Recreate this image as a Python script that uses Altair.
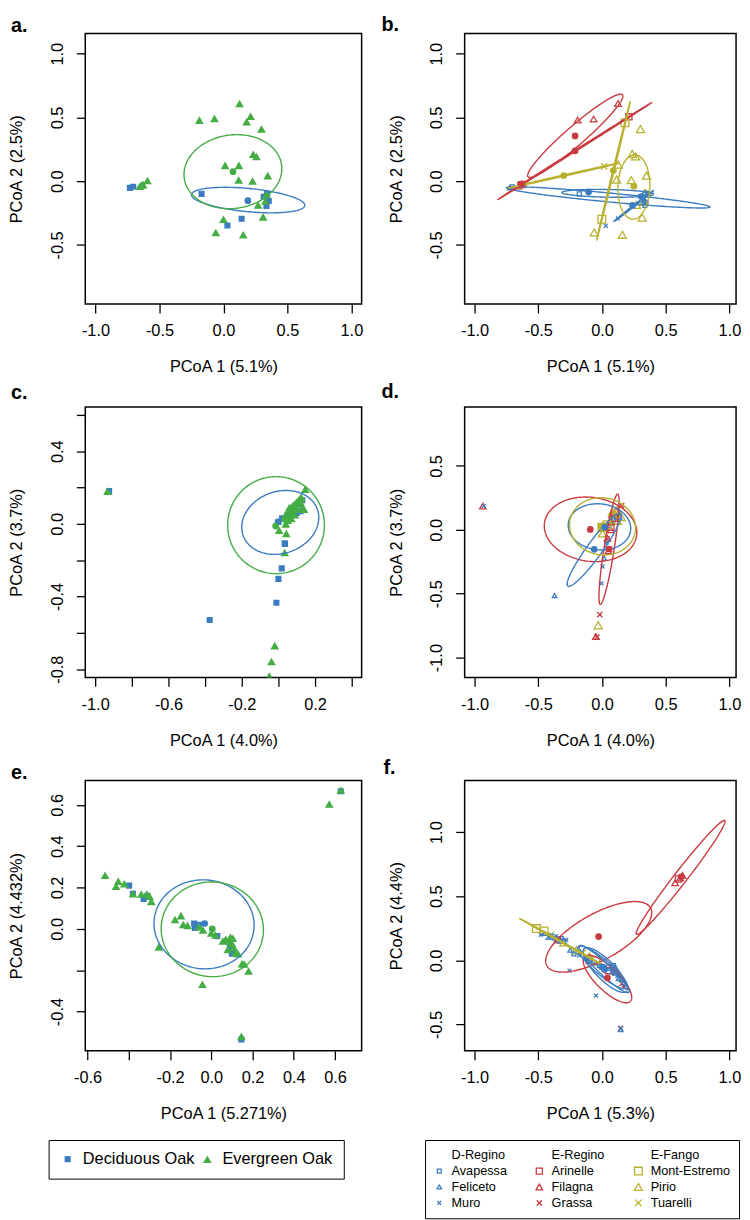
import numpy as np
import pandas as pd
import altair as alt

FONT = "Liberation Sans"
BLUE = "#3B7CC0"
GREEN = "#44AD44"
RED = "#C93A40"
YELLOW = "#B8B12F"
COL = {"D": BLUE, "E": RED, "F": YELLOW, "dec": BLUE, "eve": GREEN}

GROUPS = ["Deciduous Oak", "Evergreen Oak"]
# legend order (filled column by column)
SITES = ["D-Regino", "Avapessa", "Feliceto", "Muro",
         "E-Regino", "Arinelle", "Filagna", "Grassa",
         "E-Fango", "Mont-Estremo", "Pirio", "Tuarelli"]
NONE_COL = "rgba(0,0,0,0)"
SITE_COLORS = [NONE_COL, BLUE, BLUE, BLUE, NONE_COL, RED, RED, RED, NONE_COL, YELLOW, YELLOW, YELLOW]
CROSS = "M-0.75,-0.75L0.75,0.75M-0.75,0.75L0.75,-0.75"
SITE_SHAPES = ["square", "square", "triangle-up", CROSS,
               "square", "square", "triangle-up", CROSS,
               "square", "square", "triangle-up", CROSS]
SITE_SIZES = [10, 72, 130, 110, 10, 72, 130, 110, 10, 72, 130, 110]

# ---------------- panel a ----------------
A_DEC_X = [-0.731, -0.705, -0.171, 0.031, 0.142, 0.315, 0.341, 0.354, 0.336]
A_DEC_Y = [-0.052, -0.044, -0.099, -0.347, -0.295, -0.122, -0.099, -0.155, -0.194]
A_EVE_X = [-0.654, -0.628, -0.594, -0.640, -0.188, -0.070, 0.126, 0.212, 0.181, 0.297, 0.233, 0.258,
           0.013, 0.121, 0.119, 0.227, 0.346, 0.336, 0.328, 0.271, 0.000, 0.310, -0.060, 0.155]
A_EVE_Y = [-0.039, -0.026, 0.005, -0.030, 0.479, 0.492, 0.609, 0.510, 0.466, 0.409, 0.212, 0.194,
           0.124, 0.124, 0.010, 0.002, 0.044, -0.104, -0.155, -0.186, -0.298, -0.280, -0.402, -0.420]
A_CENT = [("dec", 0.191, -0.153), ("eve", 0.075, 0.075)]
A_ELL = [("dec", 0.193, -0.148, 0.445, 0.091, -5.5), ("eve", 0.074, 0.075, 0.384, 0.288, 8)]

# ---------------- panel b ----------------
B_PTS = {
    "Filagna": ([-0.191, -0.066, 0.126, -0.655], [0.479, 0.487, 0.609, -0.038]),
    "Arinelle": ([0.211, -0.632], [0.505, -0.027]),
    "Grassa": ([-0.612, -0.645], [-0.015, -0.030]),
    "Mont-Estremo": ([0.180, -0.001], [0.458, -0.298]),
    "Tuarelli": ([0.017, -0.617], [0.117, -0.029]),
    "Pirio": ([0.126, 0.115, 0.237, 0.263, 0.230, 0.349, 0.302, 0.336, 0.328, 0.271, 0.315, -0.061, 0.160],
              [0.130, 0.013, 0.215, 0.194, 0.008, 0.044, 0.409, -0.091, -0.161, -0.186, -0.285, -0.402, -0.420]),
    "Feliceto": ([-0.722, 0.330, 0.335], [-0.052, -0.092, -0.150]),
    "Avapessa": ([-0.705, -0.178, 0.336, 0.345], [-0.044, -0.099, -0.190, -0.165]),
    "Muro": ([0.030, 0.125, 0.300, 0.360], [-0.350, -0.292, -0.118, -0.085]),
}
B_CENT = [("E", -0.211, 0.355), ("E", -0.211, 0.238), ("E", -0.63, -0.022), ("F", 0.089, 0.083),
          ("F", -0.300, 0.044), ("F", 0.250, -0.039), ("D", -0.105, -0.085), ("D", 0.31, -0.12), ("D", 0.24, -0.19)]
B_ELL = [("D", 0.049, -0.127, 0.803, 0.035, -5.4), ("D", 0.045, -0.095, 0.36, 0.03, -1.0),
         ("D", 0.25, -0.194, 0.198, 0.006, 38), ("E", -0.21, 0.356, 0.491, 0.075, 41),
         ("E", -0.211, 0.238, 0.713, 0.005, 32.2), ("F", 0.09, 0.083, 0.56, 0.005, 76.4),
         ("F", -0.30, 0.044, 0.445, 0.005, 12.7), ("F", 0.25, -0.045, 0.253, 0.125, 88)]

# ---------------- panel c ----------------
C_DEC_X = [-0.924, -0.375, 0.036, 0.034, 0.018, 0.000, -0.011, 0.000, 0.020, 0.050, 0.070, 0.090, 0.110,
           0.120, 0.130, 0.060, 0.100]
C_DEC_Y = [0.180, -0.529, -0.111, -0.107, -0.245, -0.303, -0.434, 0.010, 0.030, 0.050, 0.080, 0.100, 0.110,
           0.070, 0.130, 0.030, 0.060]
C_EVE_X = [-0.933, -0.020, -0.038, -0.050, 0.004, 0.043, 0.034, 0.146, 0.030, 0.040, 0.050, 0.060, 0.070,
           0.080, 0.090, 0.100, 0.110, 0.120, 0.124, 0.050, 0.080, 0.100, 0.130, 0.140, 0.070, 0.090, 0.120,
           0.060, 0.040]
C_EVE_Y = [0.180, -0.670, -0.757, -0.838, -0.035, -0.053, -0.158, 0.190, 0.030, 0.050, 0.060, 0.070, 0.090,
           0.100, 0.110, 0.120, 0.130, 0.140, 0.147, 0.020, 0.060, 0.080, 0.093, 0.080, 0.030, 0.050, 0.120,
           0.090, 0.000]
C_CENT = [("dec", -0.002, 0.011), ("eve", -0.015, -0.012)]
C_ELL = [("dec", 0.01, 0.008, 0.215, 0.17, 20), ("eve", -0.013, -0.007, 0.264, 0.267, 0)]

# ---------------- panel d ----------------
D_PTS = {
    "Filagna": ([-0.935, -0.048, 0.043, 0.050, 0.060, 0.080, 0.110, 0.070], [0.186, -0.835, -0.067, -0.165, 0.060, 0.120, 0.150, 0.000]),
    "Muro": ([-0.928, -0.004, 0.004, 0.036, 0.080], [0.186, -0.420, -0.287, -0.100, 0.060]),
    "Feliceto": ([-0.372, 0.017, 0.139, 0.140], [-0.514, -0.222, 0.100, 0.130]),
    "Grassa": ([-0.017, -0.040, 0.154, 0.040, 0.060], [-0.664, -0.840, 0.190, -0.070, -0.150]),
    "Pirio": ([-0.030, 0.004, 0.010, 0.069, 0.082, 0.100, 0.120, 0.120, 0.150], [-0.747, -0.028, 0.020, 0.075, 0.140, 0.130, 0.155, 0.070, 0.100]),
    "Avapessa": ([0.050, 0.090, 0.110], [0.030, 0.080, 0.100]),
    "Arinelle": ([0.070, 0.100], [0.020, 0.090]),
    "Mont-Estremo": ([0.000, 0.040], [0.020, 0.040]),
    "Tuarelli": ([0.020, 0.100], [0.030, 0.110]),
}
D_CENT = [("E", -0.092, 0.003), ("D", -0.061, -0.153), ("F", -0.009, 0.028), ("F", 0.010, 0.030),
          ("D", 0.020, 0.020), ("E", 0.055, -0.150)]
D_ELL = [("E", -0.09, 0.004, 0.365, 0.25, -8), ("E", 0.055, -0.152, 0.437, 0.04, 81),
         ("D", -0.062, -0.157, 0.35, 0.06, 54), ("D", -0.02, 0.023, 0.246, 0.18, -6),
         ("F", 0.004, 0.027, 0.26, 0.223, -10)]

# ---------------- panel e ----------------
E_DEC_X = [0.628, 0.146, -0.398, -0.380, -0.328, -0.310, -0.083, -0.080, -0.060, 0.029, 0.090, 0.097, 0.100]
E_DEC_Y = [0.666, -0.535, 0.209, 0.170, 0.145, 0.160, 0.026, 0.005, 0.020, -0.035, -0.080, -0.100, -0.120]
E_EVE_X = [0.572, 0.628, 0.146, -0.515, -0.451, -0.462, -0.422, -0.379, -0.339, -0.312, -0.299, -0.291,
           -0.254, -0.176, -0.147, -0.136, -0.115, -0.040, 0.000, 0.056, 0.093, 0.080, 0.117, 0.149, 0.160,
           0.181, -0.043, 0.070, 0.100, 0.110, 0.130, -0.060, 0.020, 0.090, 0.105]
E_EVE_Y = [0.604, 0.672, -0.520, 0.259, 0.230, 0.206, 0.218, 0.170, 0.169, 0.169, 0.158, 0.133,
           -0.087, 0.045, 0.064, 0.021, 0.016, -0.005, -0.020, -0.059, -0.040, -0.100, -0.116, -0.169, -0.170,
           -0.204, -0.268, -0.050, -0.070, -0.090, -0.120, 0.010, -0.030, -0.060, -0.045]
E_CENT = [("dec", -0.032, 0.026), ("eve", 0.005, 0.000)]
E_ELL = [("dec", -0.035, 0.022, 0.243, 0.215, -5), ("eve", 0.005, -0.002, 0.248, 0.229, -5)]

# ---------------- panel f ----------------
F_PTS = {
    "Filagna": ([0.613, 0.574, 0.632], [0.643, 0.605, 0.662]),
    "Arinelle": ([0.600, -0.350, -0.100, 0.050], [0.635, 0.160, 0.000, -0.080]),
    "Grassa": ([0.146, 0.155, 0.172, 0.100, 0.000], [-0.532, -0.180, -0.205, -0.100, -0.050]),
    "Mont-Estremo": ([-0.515, -0.455, -0.048], [0.248, 0.230, -0.002]),
    "Pirio": ([-0.300, -0.200, -0.100], [0.140, 0.080, 0.030]),
    "Tuarelli": ([-0.400, -0.150], [0.200, 0.060]),
    "Avapessa": ([-0.400, -0.330, -0.300, -0.220, -0.100, -0.020, 0.050, 0.100, 0.150, 0.090, -0.320],
                 [0.190, 0.150, 0.150, 0.050, 0.000, -0.040, -0.050, -0.100, -0.150, -0.040, 0.170]),
    "Feliceto": ([-0.450, -0.350, -0.250, -0.120, -0.050, 0.030, 0.080, 0.130, 0.110, -0.420, 0.146],
                 [0.210, 0.160, 0.080, 0.020, -0.020, -0.060, -0.090, -0.140, -0.060, 0.180, -0.540]),
    "Muro": ([-0.480, -0.380, -0.280, -0.180, -0.080, 0.000, 0.070, 0.120, 0.170, -0.360, -0.255, -0.048, 0.148],
             [0.200, 0.170, 0.160, 0.040, -0.010, -0.050, -0.070, -0.120, -0.190, 0.190, -0.080, -0.274, -0.528]),
}
F_CENT = [("E", -0.027, 0.186), ("E", 0.043, -0.137), ("E", 0.620, 0.652), ("D", 0.000, -0.050), ("D", 0.020, -0.070)]
F_ELL = [("E", -0.026, 0.184, 0.465, 0.18, 29), ("E", 0.043, -0.145, 0.25, 0.09, -44),
         ("E", 0.617, 0.647, 0.5625, 0.05, 52), ("D", 0.017, -0.067, 0.266, 0.045, -43),
         ("D", 0.005, -0.055, 0.25, 0.06, -40), ("D", 0.025, -0.075, 0.235, 0.075, -45),
         ("F", -0.327, 0.149, 0.364, 0.005, -29.2)]

# ---------------- axes ----------------
TICKS_1 = [-1.0, -0.5, 0.0, 0.5, 1.0]
TICKS_AB_Y = [-0.5, 0.0, 0.5, 1.0]
TICKS_C_X = [-1.0, -0.8, -0.6, -0.4, -0.2, 0.0, 0.2, 0.4]
HIDE_C_X = [-0.8, -0.4, 0.0, 0.4]
TICKS_C_Y = [-0.8, -0.6, -0.4, -0.2, 0.0, 0.2, 0.4, 0.6]
HIDE_C_Y = [-0.6, -0.2, 0.2, 0.6]
TICKS_D_Y = [-1.0, -0.5, 0.0, 0.5]
TICKS_E_X = [-0.6, -0.4, -0.2, 0.0, 0.2, 0.4, 0.6]
HIDE_E_X = [-0.4]
TICKS_E_Y = [-0.4, -0.2, 0.0, 0.2, 0.4, 0.6]
HIDE_E_Y = [-0.2]
TICKS_F_Y = [-0.5, 0.0, 0.5, 1.0]

W1, W2, H = 279, 274, 273


def lab_expr(hide):
    base = "replace(format(datum.value, '.1f'), '\u2212', '-')"
    if not hide:
        return base
    cond = " || ".join("abs(datum.value - (%s)) < 0.001" % v for v in hide)
    return "(%s) ? '' : %s" % (cond, base)


def ellipse_frame(specs, n=181):
    t = np.linspace(0.0, 2 * np.pi, n)
    frames = []
    for k, (reg, cx, cy, a, b, ang) in enumerate(specs):
        th = np.radians(ang)
        xs = cx + a * np.cos(t) * np.cos(th) - b * np.sin(t) * np.sin(th)
        ys = cy + a * np.cos(t) * np.sin(th) + b * np.sin(t) * np.cos(th)
        frames.append(pd.DataFrame({"x": xs, "y": ys, "i": np.arange(n), "eid": k, "col": COL[reg]}))
    return pd.concat(frames, ignore_index=True)


def cent_frame(specs):
    return pd.DataFrame({"x": [s[1] for s in specs], "y": [s[2] for s in specs],
                         "col": [COL[s[0]] for s in specs]})


def group_frame(dx, dy, ex, ey):
    return pd.DataFrame({"x": dx + ex, "y": dy + ey,
                         "g": [GROUPS[0]] * len(dx) + [GROUPS[1]] * len(ex)})


def site_frame(d):
    xs, ys, ss = [], [], []
    for s, (px, py) in d.items():
        xs += px
        ys += py
        ss += [s] * len(px)
    return pd.DataFrame({"x": xs, "y": ys, "s": ss})


def panel(letter, ldx, loff, width, kind, pts_df, cen_df, ell_df, xdom, ydom,
          xt, xhide, yt, yhide, xtitle, ytitle, legend=None):
    xs = alt.Scale(domain=xdom, nice=False, zero=False)
    ys = alt.Scale(domain=ydom, nice=False, zero=False)
    xax = alt.Axis(values=xt, labelExpr=lab_expr(xhide), title=xtitle, labelPadding=10,
                   titlePadding=20, labelOverlap=False, labelFlush=False)
    yax = alt.Axis(values=yt, labelExpr=lab_expr(yhide), title=ytitle, labelAngle=-90,
                   labelAlign="center", labelBaseline="bottom", labelPadding=11, titlePadding=25,
                   labelOverlap=False, labelFlush=False)
    X = alt.X("x:Q", scale=xs, axis=xax)
    Y = alt.Y("y:Q", scale=ys, axis=yax)
    leg = legend
    if kind == "group":
        pts = alt.Chart(pts_df).mark_point(filled=True, opacity=1, clip=True).encode(
            x=X, y=Y,
            color=alt.Color("g:N", scale=alt.Scale(domain=GROUPS, range=[BLUE, GREEN]), legend=leg, title=None),
            shape=alt.Shape("g:N", scale=alt.Scale(domain=GROUPS, range=["square", "triangle-up"]), legend=leg, title=None),
            size=alt.Size("g:N", scale=alt.Scale(domain=GROUPS, range=[38, 78]), legend=None),
        )
    else:
        pts = alt.Chart(pts_df).mark_point(filled=False, opacity=1, strokeWidth=1.3, clip=True).encode(
            x=X, y=Y,
            color=alt.Color("s:N", scale=alt.Scale(domain=SITES, range=SITE_COLORS), legend=leg, title=None),
            shape=alt.Shape("s:N", scale=alt.Scale(domain=SITES, range=SITE_SHAPES), legend=leg, title=None),
            size=alt.Size("s:N", scale=alt.Scale(domain=SITES, range=SITE_SIZES), legend=None),
        )
    ell = alt.Chart(ell_df).mark_line(strokeWidth=1.4, clip=True).encode(
        x=X, y=Y, detail="eid:N", order="i:Q", stroke=alt.Stroke("col:N", scale=None))
    cen = alt.Chart(cen_df).mark_point(filled=True, shape="circle", size=46, opacity=1, clip=True).encode(
        x=X, y=Y, fill=alt.Fill("col:N", scale=None))
    lab = alt.Chart(pd.DataFrame({"t": [letter]})).mark_text(
        align="left", baseline="alphabetic", fontSize=20, fontWeight="bold", font=FONT, color="black"
    ).encode(text="t:N", x=alt.value(ldx), y=alt.value(-loff))
    return alt.layer(pts, ell, cen, lab).properties(width=width, height=H)


LEG_GROUP = alt.Legend(orient="none", legendX=-37, legendY=363, direction="horizontal", title=None,
                       titlePadding=0, strokeColor="black", padding=11, labelFont=FONT, labelFontSize=16.5,
                       labelColor="black", labelOffset=7, columnPadding=4, symbolSize=62,
                       symbolOpacity=1)
LEG_SITE = alt.Legend(orient="none", legendX=-40, legendY=363, columns=3, gridAlign="each", title=None,
                      titlePadding=0, strokeColor="black", padding=8, labelFont=FONT, labelFontSize=12.8,
                      labelColor="black", labelOffset=6, columnPadding=26, rowPadding=2,
                      symbolSize=45, symbolStrokeWidth=1.3, symbolOpacity=1)

pa = panel("a.", -75, 2, W1, "group", group_frame(A_DEC_X, A_DEC_Y, A_EVE_X, A_EVE_Y),
           cent_frame(A_CENT), ellipse_frame(A_ELL), [-1.08, 1.08], [-0.963, 1.158],
           TICKS_1, [], TICKS_AB_Y, [], "PCoA 1 (5.1%)", "PCoA 2 (2.5%)")
pb = panel("b.", -84, 3, W2, "site", site_frame(B_PTS), cent_frame(B_CENT), ellipse_frame(B_ELL),
           [-1.078, 1.052], [-0.963, 1.158], TICKS_1, [], TICKS_AB_Y, [],
           "PCoA 1 (5.1%)", "PCoA 2 (2.5%)")
pc = panel("c.", -75, 8.5, W1, "group", group_frame(C_DEC_X, C_DEC_Y, C_EVE_X, C_EVE_Y),
           cent_frame(C_CENT), ellipse_frame(C_ELL), [-1.054, 0.454], [-0.845, 0.643],
           TICKS_C_X, HIDE_C_X, TICKS_C_Y, HIDE_C_Y, "PCoA 1 (4.0%)", "PCoA 2 (3.7%)")
pd_ = panel("d.", -84, 9, W2, "site", site_frame(D_PTS), cent_frame(D_CENT), ellipse_frame(D_ELL),
            [-1.078, 1.052], [-1.155, 0.961], TICKS_1, [], TICKS_D_Y, [],
            "PCoA 1 (4.0%)", "PCoA 2 (3.7%)")
pe = panel("e.", -75, 1, W1, "group", group_frame(E_DEC_X, E_DEC_Y, E_EVE_X, E_EVE_Y),
           cent_frame(E_CENT), ellipse_frame(E_ELL), [-0.611, 0.729], [-0.590, 0.718],
           TICKS_E_X, HIDE_E_X, TICKS_E_Y, HIDE_E_Y, "PCoA 1 (5.271%)", "PCoA 2 (4.432%)",
           legend=LEG_GROUP)
pf = panel("f.", -82, 7, W2, "site", site_frame(F_PTS), cent_frame(F_CENT), ellipse_frame(F_ELL),
           [-1.078, 1.052], [-0.705, 1.403], TICKS_1, [], TICKS_F_Y, [],
           "PCoA 1 (5.3%)", "PCoA 2 (4.4%)", legend=LEG_SITE)

chart = alt.concat(pa, pb, pc, pd_, pe, pf, columns=2, spacing=104, bounds="flush").resolve_scale(
    color="independent", shape="independent", size="independent"
).configure(font=FONT, padding=0).configure_view(stroke="black", strokeWidth=1.5).configure_axis(
    grid=False, domain=False, ticks=True, tickColor="black", tickWidth=1.3, tickSize=9,
    labelFont=FONT, labelFontSize=16.5, labelColor="black",
    titleFont=FONT, titleFontSize=16.5, titleFontWeight="normal", titleColor="black"
)

chart.save("out.html", embed_options={"renderer": "svg", "actions": False})
